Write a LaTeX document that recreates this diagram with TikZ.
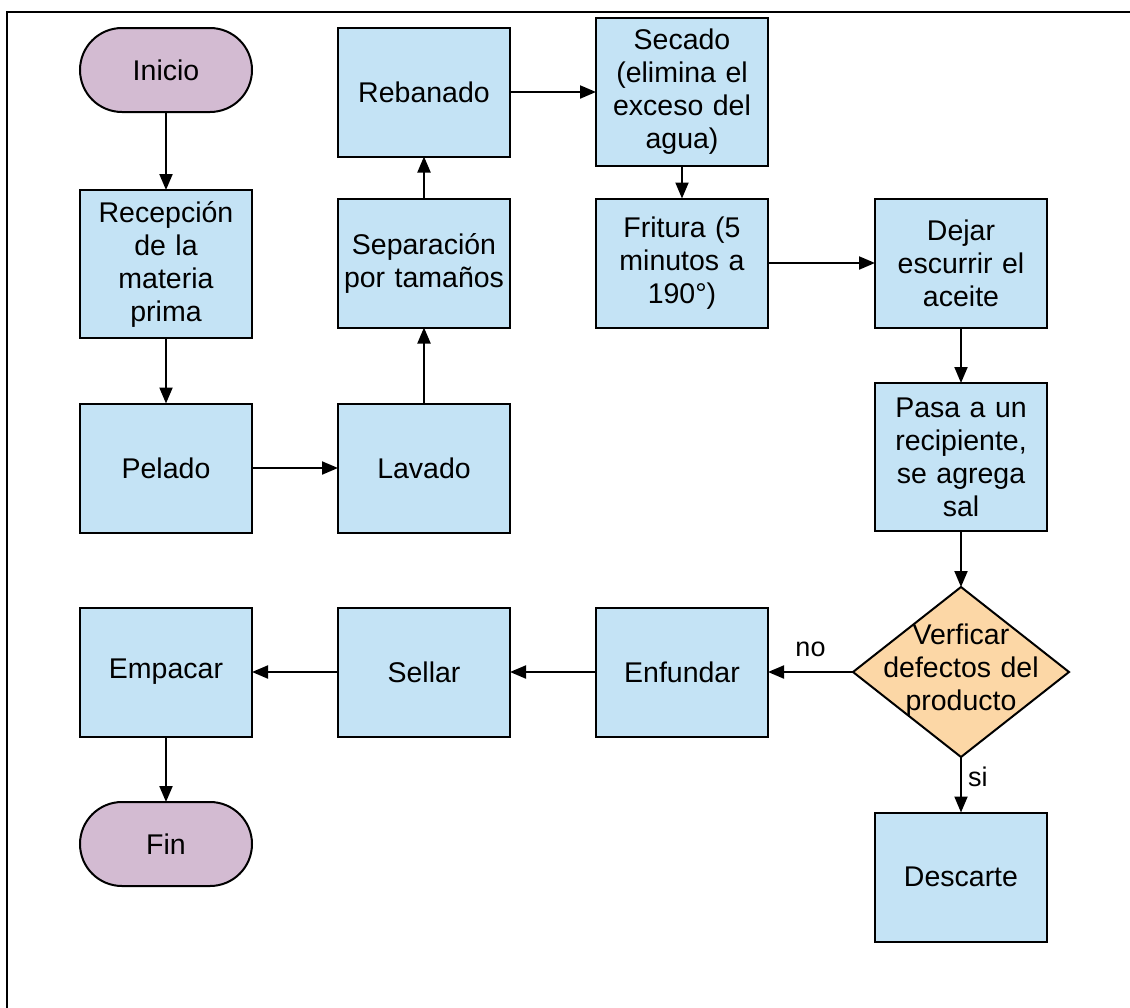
\documentclass[tikz,border=0pt]{standalone}
\usepackage{fontspec}
\setmainfont{Liberation Sans}
\usetikzlibrary{arrows.meta,shapes.geometric}
\definecolor{boxblue}{HTML}{C4E3F5}
\definecolor{termpurple}{HTML}{D3BBD2}
\definecolor{decorange}{HTML}{FCD7A6}
\tikzset{
  base/.style={draw=black, line width=2pt, inner sep=0pt, outer sep=0pt, align=center,
    font=\fontsize{28.5}{33}\selectfont},
  procbox/.style={base, fill=boxblue, rectangle, minimum width=172pt, minimum height=129pt, text width=165pt},
  tallbox/.style={procbox, minimum height=148pt},
  termbox/.style={base, fill=termpurple, rectangle, rounded corners=42pt, minimum width=172pt, minimum height=84pt},
  decbox/.style={base, fill=decorange, diamond, minimum width=216pt, minimum height=170pt, aspect=1.27},
  conn/.style={line width=2pt, -{Triangle[length=16pt,width=13pt]}},
  lbl/.style={font=\fontsize{27}{30}\selectfont, inner sep=0pt}
}
\begin{document}
\begin{tikzpicture}[x=1pt,y=-1pt]
\useasboundingbox (0,0) rectangle (1130,1007);
\fill[white] (0,0) rectangle (1130,1007);
\draw[line width=2pt] (7,1010) -- (7,12) -- (1132,12);

\node[termbox] (inicio) at (166,70) {Inicio};
\node[tallbox] (recep) at (166,264) {Recepción\\de la\\materia\\prima};
\node[procbox] (pelado) at (166,468) {Pelado};
\node[procbox] (lavado) at (424,468) {Lavado};
\node[procbox] (separ) at (424,263) {Separación\\por tamaños};
\node[procbox] (rebanado) at (424,92) {Rebanado};
\node[tallbox] (secado) at (682,92) {Secado\\(elimina el\\exceso del\\agua)};
\node[procbox] (fritura) at (682,263) {Fritura (5\\minutos a\\190°)};
\node[procbox] (dejar) at (961,263) {Dejar\\escurrir el\\aceite};
\node[tallbox] (pasa) at (961,457) {Pasa a un\\recipiente,\\se agrega\\sal};
\node[decbox] (verif) at (961,672) {};
\node[base, draw=none, text width=200pt] (veriftext) at (961,670) {Verficar\\defectos del\\producto};
\node[procbox] (enfundar) at (682,672) {Enfundar};
\node[procbox] (sellar) at (424,672) {Sellar};
\node[procbox] (empacar) at (166,672) {Empacar};
\node[termbox] (fin) at (166,844) {Fin};
\node[procbox] (descarte) at (961,877) {Descarte};

\draw[conn] (inicio) -- (recep);
\draw[conn] (recep) -- (pelado);
\draw[conn] (pelado) -- (lavado);
\draw[conn] (lavado) -- (separ);
\draw[conn] (separ) -- (rebanado);
\draw[conn] (rebanado) -- (secado.west |- rebanado);
\draw[conn] (secado) -- (fritura);
\draw[conn] (fritura) -- (dejar);
\draw[conn] (dejar) -- (pasa);
\draw[conn] (pasa) -- (verif.north);
\draw[conn] (verif.west) -- node[lbl, above=14pt] (no) {no} (enfundar.east);
\draw[conn] (enfundar) -- (sellar);
\draw[conn] (sellar) -- (empacar);
\draw[conn] (empacar) -- (fin);
\draw[conn] (verif.south) -- node[lbl, right=6pt, pos=0.35] (si) {si} (descarte.north);
\end{tikzpicture}
\end{document}
